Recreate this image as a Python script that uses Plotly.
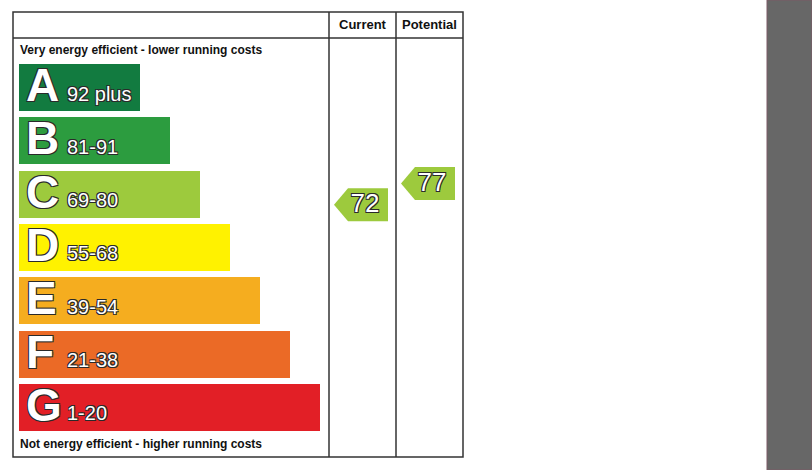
import plotly.graph_objects as go

# EPC bands, top (most efficient) to bottom
BANDS = ["A", "B", "C", "D", "E", "F", "G"]
RANGES = ["92 plus", "81-91", "69-80", "55-68", "39-54", "21-38", "1-20"]
LOW = [92, 81, 69, 55, 39, 21, 1]
HIGH = [100, 91, 80, 68, 54, 38, 20]
COLORS = ["#127b40", "#2c9c3f", "#9dca3d", "#fff200", "#f5ad1f", "#eb6a26", "#e21f26"]

CURRENT = 72
POTENTIAL = 77
HEADERS = ["Current", "Potential"]

W, H = 812, 470
FRAME_L, FRAME_R, FRAME_T, FRAME_B = 13, 463, 12, 457
HEAD_B = 38
COL_L = [329, 396]
BAR_X0, BAR_TOP, BAR_H, PITCH = 19, 64, 47, 53.33
BAR_W0, BAR_STEP = 121, 30

FONT = "Liberation Sans, Arial, sans-serif"
OUTLINE = "-1px -1px 0 #2a2a2a, 1px -1px 0 #2a2a2a, -1px 1px 0 #2a2a2a, 1px 1px 0 #2a2a2a"

tops = [BAR_TOP + i * PITCH for i in range(len(BANDS))]
centers = [t + BAR_H / 2 for t in tops]
widths = [BAR_W0 + BAR_STEP * i for i in range(len(BANDS))]


def score_y(s):
    for i in range(len(BANDS)):
        if LOW[i] <= s <= HIGH[i]:
            return tops[i] + (HIGH[i] - s) / (HIGH[i] - LOW[i]) * BAR_H
    return None


def band_color(s):
    for i in range(len(BANDS)):
        if LOW[i] <= s <= HIGH[i]:
            return COLORS[i]
    return "#999"


fig = go.Figure()

fig.add_trace(go.Bar(
    orientation="h", y=centers, x=widths, base=BAR_X0, width=BAR_H,
    marker=dict(color=COLORS, line=dict(width=0)), hoverinfo="skip",
))

fig.add_trace(go.Scatter(
    x=[BAR_X0 + 7] * len(BANDS), y=[c + 2 for c in centers], mode="text",
    text=BANDS, textposition="middle right",
    textfont=dict(family=FONT, size=46, color="white", weight="bold", shadow=OUTLINE),
    hoverinfo="skip",
))
fig.add_trace(go.Scatter(
    x=[BAR_X0 + 48] * len(BANDS), y=[c + 8 for c in centers], mode="text",
    text=RANGES, textposition="middle right",
    textfont=dict(family=FONT, size=20, color="white", shadow=OUTLINE),
    hoverinfo="skip",
))

# rating arrows
for k, s in enumerate([CURRENT, POTENTIAL]):
    yc = score_y(s)
    x0 = COL_L[k] + 5
    x1 = x0 + 54
    tip = 14
    hh = 16.5
    fig.add_trace(go.Scatter(
        x=[x0, x0 + tip, x1, x1, x0 + tip, x0],
        y=[yc, yc - hh, yc - hh, yc + hh, yc + hh, yc],
        mode="lines", fill="toself", fillcolor=band_color(s),
        line=dict(width=0), hoverinfo="skip",
    ))
    fig.add_trace(go.Scatter(
        x=[x0 + 31], y=[yc + 1], mode="text", text=[str(s)],
        textposition="middle center",
        textfont=dict(family=FONT, size=26, color="white", shadow=OUTLINE),
        hoverinfo="skip",
    ))

# headers and captions
for k, h in enumerate(HEADERS):
    right = COL_L[k + 1] if k + 1 < len(COL_L) else FRAME_R
    fig.add_annotation(x=(COL_L[k] + right) / 2, y=(FRAME_T + HEAD_B) / 2 - 1, text="<b>%s</b>" % h,
                       showarrow=False, font=dict(family=FONT, size=13, color="#111"))
fig.add_annotation(x=BAR_X0 - 1, y=50, text="<b>Very energy efficient - lower running costs</b>",
                   showarrow=False, xanchor="left", font=dict(family=FONT, size=12, color="#111"))
fig.add_annotation(x=BAR_X0 - 1, y=444, text="<b>Not energy efficient - higher running costs</b>",
                   showarrow=False, xanchor="left", font=dict(family=FONT, size=12, color="#111"))

line = dict(color="#333", width=1.5)
shapes = [
    dict(type="rect", x0=FRAME_L, x1=FRAME_R, y0=FRAME_T, y1=FRAME_B, line=line),
    dict(type="line", x0=FRAME_L, x1=FRAME_R, y0=HEAD_B, y1=HEAD_B, line=line),
]
for c in COL_L:
    shapes.append(dict(type="line", x0=c, x1=c, y0=FRAME_T, y1=FRAME_B, line=line))
shapes.append(dict(type="rect", x0=767, x1=W, y0=0, y1=H, fillcolor="#676767",
                   line=dict(color="#7d5a66", width=1), layer="below"))

fig.update_layout(
    width=W, height=H, margin=dict(l=0, r=0, t=0, b=0),
    paper_bgcolor="white", plot_bgcolor="white", showlegend=False,
    shapes=shapes, bargap=0,
    xaxis=dict(range=[0, W], visible=False, fixedrange=True),
    yaxis=dict(range=[H, 0], visible=False, fixedrange=True),
)
fig.write_html("out.html", config={"displayModeBar": False},
               post_script="document.body.style.margin='0';")
